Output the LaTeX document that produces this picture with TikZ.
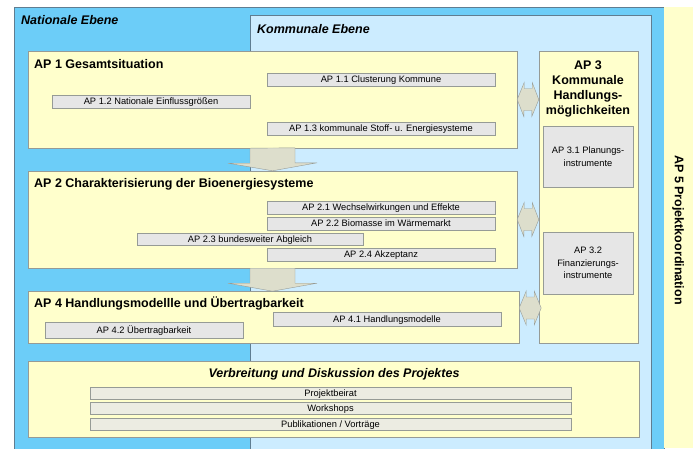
\documentclass[tikz,border=0pt]{standalone}
\usepackage{fontspec}
\setmainfont{Liberation Sans}
\usetikzlibrary{calc}
\definecolor{nationblue}{RGB}{108,205,248}
\definecolor{kommblue}{RGB}{204,236,255}
\definecolor{apyellow}{RGB}{255,255,204}
\definecolor{subgrey}{RGB}{230,230,230}
\definecolor{subbeige}{RGB}{236,236,226}
\definecolor{arrowfill}{RGB}{221,222,204}
\definecolor{boxedge}{RGB}{150,155,150}
\definecolor{outeredge}{RGB}{95,125,145}
\tikzset{
	apbox/.style={draw=boxedge, fill=apyellow, inner sep=0pt},
	subbox/.style={draw=boxedge, fill=subgrey, inner sep=0pt, minimum height=13pt, text height=6.7pt, text depth=0pt, font=\fontsize{9.3}{11}\selectfont},
	instbox/.style={draw=boxedge, fill=subgrey, inner sep=0pt, minimum width=90pt, align=center, font=\fontsize{9.3}{12.5}\selectfont},
	titletext/.style={font=\fontsize{12.5}{15}\selectfont\bfseries, inner sep=0pt},
	blockarrow/.style={draw=boxedge, fill=arrowfill},
}
\begin{document}
\begin{tikzpicture}[x=1pt, y=-1pt]
	\useasboundingbox (0,0) rectangle (696,448);
	\fill[white] (0,0) rectangle (696,448);
	
	% Ebenen
	\draw[fill=nationblue, draw=outeredge] (14,7) rectangle (664,460);
	\draw[fill=kommblue, draw=outeredge] (250,15) rectangle (651,460);
	\fill[apyellow] (664,7) rectangle (693,448);
	\node[titletext, font=\fontsize{12.5}{15}\selectfont\bfseries\itshape, anchor=base west] (national) at (21,24) {Nationale Ebene};
	\node[titletext, font=\fontsize{12.5}{15}\selectfont\bfseries\itshape, anchor=base west] (kommunal) at (257,33) {Kommunale Ebene};
	\node[titletext, rotate=-90] (ap5) at (678,230) {AP 5 Projektkoordination};
	
	% AP 1
	\node[apbox, minimum width=489pt, minimum height=97pt] (ap1) at (272.5,99.5) {};
	\node[titletext, anchor=base west] (ap1t) at (34,68) {AP 1 Gesamtsituation};
	\node[subbox, minimum width=228pt] (ap11) at (381,79.5) {AP 1.1 Clusterung Kommune};
	\node[subbox, minimum width=198pt] (ap12) at (151,101.5) {AP 1.2 Nationale Einflussgrößen};
	\node[subbox, minimum width=228pt] (ap13) at (381,128.5) {AP 1.3 kommunale Stoff- u. Energiesysteme};
	
	% AP 2
	\node[apbox, minimum width=489pt, minimum height=97pt] (ap2) at (272.5,219.5) {};
	\node[titletext, anchor=base west] (ap2t) at (34,187.5) {AP 2 Charakterisierung der Bioenergiesysteme};
	\node[subbox, minimum width=228pt] (ap21) at (381,207.5) {AP 2.1 Wechselwirkungen und Effekte};
	\node[subbox, minimum width=228pt] (ap22) at (381,223.5) {AP 2.2 Biomasse im Wärmemarkt};
	\node[subbox, minimum width=226pt, minimum height=12pt] (ap23) at (250,239) {AP 2.3 bundesweiter Abgleich};
	\node[subbox, minimum width=228pt] (ap24) at (381,254.5) {AP 2.4 Akzeptanz};
	
	% AP 4
	\node[apbox, minimum width=491pt, minimum height=52pt] (ap4) at (273.5,317) {};
	\node[titletext, anchor=base west] (ap4t) at (34,307.5) {AP 4 Handlungsmodellle und Übertragbarkeit};
	\node[subbox, minimum width=228pt, minimum height=14pt] (ap41) at (387,319) {AP 4.1 Handlungsmodelle};
	\node[subbox, minimum width=198pt, minimum height=16pt] (ap42) at (144,330) {AP 4.2 Übertragbarkeit};
	
	% AP 3
	\node[apbox, minimum width=99pt, minimum height=292pt] (ap3) at (588.5,197) {};
	\node[titletext, align=center, anchor=north] (ap3t) at (588,61) {AP 3\\Kommunale\\Handlungs-\\möglichkeiten};
	\node[instbox, minimum height=61pt] (ap31) at (588,156.5) {AP 3.1 Planungs-\\instrumente};
	\node[instbox, minimum height=62pt] (ap32) at (588,263) {AP 3.2\\Finanzierungs-\\instrumente};
	
	% Verbreitung
	\node[apbox, minimum width=611pt, minimum height=76pt] (verb) at (333.5,399) {};
	\node[titletext, font=\fontsize{12.5}{15}\selectfont\bfseries\itshape, anchor=base] (verbt) at (334,377) {Verbreitung und Diskussion des Projektes};
	\node[subbox, fill=subbeige, minimum width=481pt, minimum height=12pt] (beirat) at (330.5,393) {Projektbeirat};
	\node[subbox, fill=subbeige, minimum width=481pt, minimum height=12pt] (workshops) at (330.5,408) {Workshops};
	\node[subbox, fill=subbeige, minimum width=481pt, minimum height=12pt] (publ) at (330.5,424) {Publikationen / Vorträge};
	
	% Pfeile
	\draw[blockarrow] ($(ap1.south)+(-22.5,0)$) -- ++(0,15) -- ++(-22,0) -- (ap2.north) -- ++(44.5,-8) -- ++(-22,0) -- ++(0,-15) -- cycle;
	\draw[blockarrow] ($(ap2.south)+(-22.5,0)$) -- ++(0,15) -- ++(-22,0) -- ($(ap2.south)+(0,23)$) -- ++(44.5,-8) -- ++(-22,0) -- ++(0,-15) -- cycle;
	\draw[blockarrow] (ap1.east) -- ++(7,-17) -- ++(0,6) -- ++(8,0) -- ++(0,-6) -- (ap3.west |- ap1.east) -- ++(-7,17) -- ++(0,-6) -- ++(-8,0) -- ++(0,6) -- cycle;
	\draw[blockarrow] (ap2.east) -- ++(7,-17) -- ++(0,6) -- ++(8,0) -- ++(0,-6) -- (ap3.west |- ap2.east) -- ++(-7,17) -- ++(0,-6) -- ++(-8,0) -- ++(0,6) -- cycle;
	\draw[blockarrow] ($(ap4.east)+(0,-9)$) -- ++(7,-17) -- ++(0,6) -- ++(8,0) -- ++(0,-6) -- ++(7,17) -- ++(-7,17) -- ++(0,-6) -- ++(-8,0) -- ++(0,6) -- cycle;
\end{tikzpicture}
\end{document}
